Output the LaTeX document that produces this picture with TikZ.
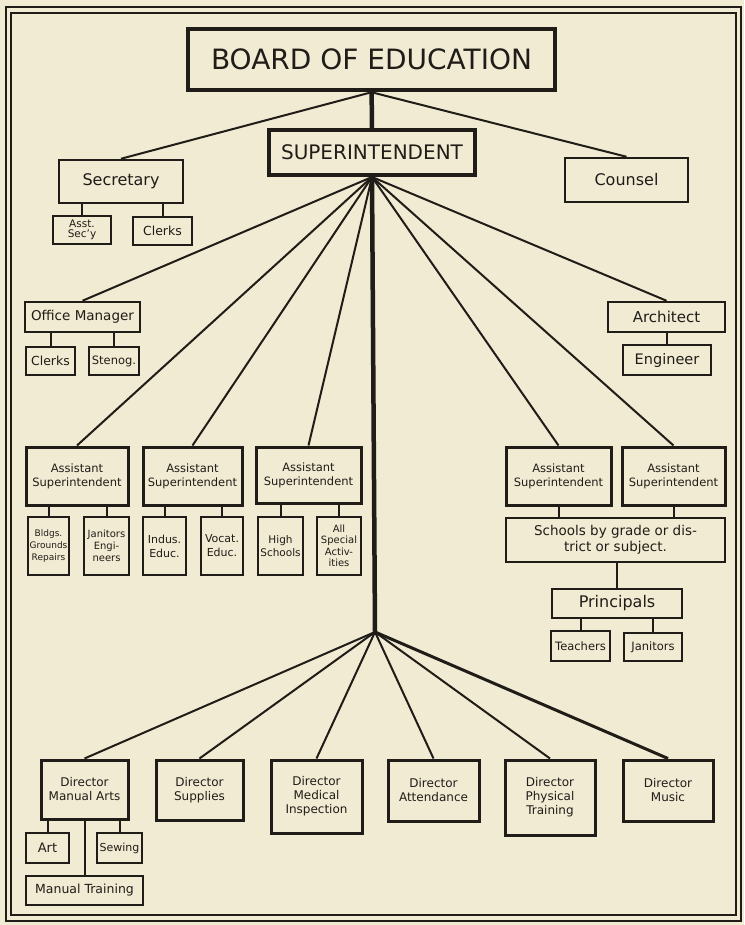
\documentclass[tikz,border=0pt]{standalone}
\usepackage{fontspec}
\setmainfont{DejaVu Sans}
\definecolor{paper}{HTML}{F1EBD3}
\definecolor{ink}{HTML}{201C18}
\begin{document}
\begin{tikzpicture}[x=1pt,y=-1pt,
  box/.style = {draw=ink, rectangle, line width=2.5pt, align=center, inner sep=1pt, text=ink, font=\fontsize{12}{14}\selectfont},
  bigbox/.style = {box, line width=4.5pt, font=\fontsize{28}{30}\selectfont},
  headbox/.style = {box, line width=4pt, font=\fontsize{20}{22}\selectfont},
  midbox/.style = {box, font=\fontsize{15}{17}\selectfont},
  asbox/.style = {box, line width=3pt, font=\fontsize{11.5}{14}\selectfont},
  dirbox/.style = {box, line width=3pt, font=\fontsize{12}{14}\selectfont},
  smallbox/.style = {box, line width=2pt, font=\fontsize{11.5}{13}\selectfont},
  tinybox/.style = {box, line width=2pt, font=\fontsize{9.5}{11}\selectfont},
  link/.style = {draw=ink, line width=2pt},
  spine/.style = {draw=ink, line width=4.5pt}]

\fill[paper] (0,0) rectangle (744,925);
\draw[ink, line width=2pt] (6,7) rectangle (741,921);
\draw[ink, line width=1.2pt] (11,13) rectangle (736,915);

\node[bigbox, minimum width=367, minimum height=61] (board) at (371.5,59.5) {BOARD OF EDUCATION};
\node[headbox, minimum width=206, minimum height=45] (supt) at (372,152.5) {SUPERINTENDENT};
\node[midbox, font=\fontsize{16}{18}\selectfont, minimum width=124, minimum height=43] (sec) at (121,181.5) {Secretary};
\node[midbox, font=\fontsize{16}{18}\selectfont, minimum width=123, minimum height=44] (counsel) at (626.5,180) {Counsel};
\node[tinybox, font=\fontsize{10.5}{10.5}\selectfont, minimum width=58, minimum height=28] (asec) at (82,230) {Asst.\\Sec'y};
\node[smallbox, font=\fontsize{12.5}{14}\selectfont, minimum width=59, minimum height=28] (sclk) at (162.5,231) {Clerks};

\node[midbox, font=\fontsize{13.5}{15}\selectfont, minimum width=115, minimum height=30] (office) at (82.5,317) {Office Manager};
\node[smallbox, font=\fontsize{12.5}{14}\selectfont, minimum width=49, minimum height=28] (oclk) at (50.5,361) {Clerks};
\node[smallbox, minimum width=50, minimum height=28] (steno) at (114,361) {Stenog.};
\node[midbox, minimum width=117, minimum height=30] (arch) at (666.5,317) {Architect};
\node[midbox, font=\fontsize{14.5}{16}\selectfont, minimum width=88, minimum height=30] (eng) at (667,360) {Engineer};

\node[asbox, minimum width=102, minimum height=58] (asA) at (77,476) {Assistant\\Superintendent};
\node[asbox, minimum width=99, minimum height=58] (asB) at (192.5,476) {Assistant\\Superintendent};
\node[asbox, minimum width=105, minimum height=56] (asC) at (308.5,475) {Assistant\\Superintendent};
\node[asbox, minimum width=105, minimum height=58] (asD) at (558.5,476) {Assistant\\Superintendent};
\node[asbox, minimum width=103, minimum height=58] (asE) at (673.5,476) {Assistant\\Superintendent};

\node[tinybox, font=\fontsize{9}{12}\selectfont, minimum width=41, minimum height=58] (bldg) at (48.5,546) {Bldgs.\\Grounds\\Repairs};
\node[tinybox, font=\fontsize{10}{12}\selectfont, minimum width=45, minimum height=58] (jan) at (106.5,546) {Janitors\\Engi-\\neers};
\node[tinybox, font=\fontsize{11}{14}\selectfont, minimum width=43, minimum height=58] (indus) at (164.5,546) {Indus.\\Educ.};
\node[tinybox, font=\fontsize{11}{14}\selectfont, minimum width=42, minimum height=58] (vocat) at (222,546) {Vocat.\\Educ.};
\node[tinybox, font=\fontsize{10.5}{13}\selectfont, minimum width=45, minimum height=58] (high) at (280.5,546) {High\\Schools};
\node[tinybox, font=\fontsize{10}{11.5}\selectfont, minimum width=44, minimum height=58] (spec) at (339,546) {All\\Special\\Activ-\\ities};

\node[box, font=\fontsize{13.5}{16}\selectfont, minimum width=219, minimum height=44] (schools) at (615.5,540) {Schools by grade or dis-\\trict or subject.};
\node[midbox, font=\fontsize{16}{18}\selectfont, minimum width=130, minimum height=29] (princ) at (617,603.5) {Principals};
\node[smallbox, minimum width=59, minimum height=30] (teach) at (580.5,646) {Teachers};
\node[smallbox, minimum width=58, minimum height=28] (janit) at (653,647) {Janitors};

\coordinate (hub) at (375,632);

\node[dirbox, minimum width=87, minimum height=59] (dman) at (84.5,789.5) {Director\\Manual Arts};
\node[dirbox, minimum width=87, minimum height=60] (dsup) at (199.5,790) {Director\\Supplies};
\node[dirbox, minimum width=91, minimum height=73] (dmed) at (316.5,796.5) {Director\\Medical\\Inspection};
\node[dirbox, minimum width=91, minimum height=61] (datt) at (433.5,790.5) {Director\\Attendance};
\node[dirbox, minimum width=90, minimum height=75] (dphys) at (550,797.5) {Director\\Physical\\Training};
\node[dirbox, minimum width=90, minimum height=61] (dmus) at (668,790.5) {Director\\Music};
\node[smallbox, font=\fontsize{13}{15}\selectfont, minimum width=43, minimum height=30] (art) at (47.5,848) {Art};
\node[smallbox, font=\fontsize{11}{13}\selectfont, minimum width=45, minimum height=30] (sew) at (119.5,848) {Sewing};
\node[smallbox, font=\fontsize{12.5}{14}\selectfont, minimum width=117, minimum height=29] (mtrain) at (84.5,890.5) {Manual Training};

\draw[spine] (board) -- (supt);
\draw[link] (board.south) -- (sec.north);
\draw[link] (board.south) -- (counsel.north);
\draw[link] (asec.north) -- (asec.north |- sec.south);
\draw[link] (sclk.north) -- (sclk.north |- sec.south);

\foreach \n in {office,asA,asB,asC,asD,asE,arch}
  \draw[link] (supt.south) -- (\n.north);
\draw[spine] (supt.south) -- (hub);

\foreach \a/\b in {office/oclk,office/steno,arch/eng,asA/bldg,asA/jan,asB/indus,asB/vocat,asC/high,asC/spec,schools/princ,princ/teach,princ/janit,dman/art,dman/sew,dman/mtrain}
  \draw[link] (\b.north) -- (\b.north |- \a.south);
\draw[link] (asD.south) -- (asD.south |- schools.north);
\draw[link] (asE.south) -- (asE.south |- schools.north);

\foreach \n in {dman,dsup,dmed,datt,dphys}
  \draw[link] (hub) -- (\n.north);
\draw[link, line width=3pt] (hub) -- (dmus.north);

\end{tikzpicture}
\end{document}
